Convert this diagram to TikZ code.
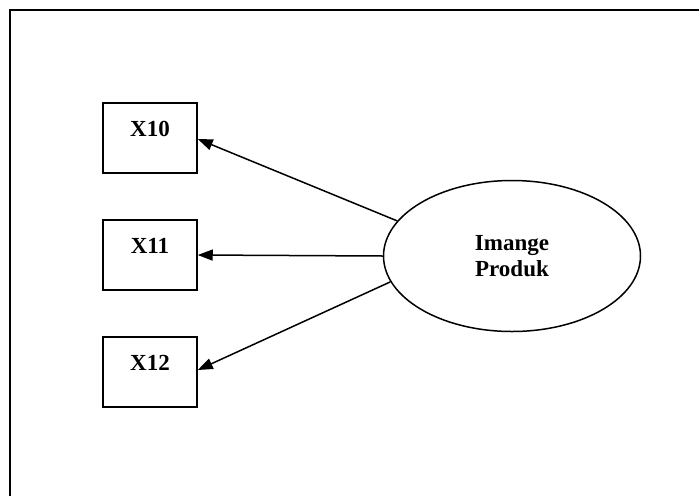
\documentclass[tikz,border=0pt]{standalone}
\usepackage{fontspec}
\setmainfont{Liberation Serif}
\usetikzlibrary{shapes.geometric,arrows.meta}
\begin{document}
\begin{tikzpicture}[x=1pt,y=-1pt,
  indicator/.style={draw,line width=1.5pt,minimum width=94pt,minimum height=70pt,inner sep=0pt},
  boxlabel/.style={font=\fontsize{23}{26}\selectfont\bfseries,anchor=base,inner sep=0pt},
  construct/.style={draw,ellipse,line width=1.5pt,minimum width=257pt,minimum height=151pt,inner sep=0pt,
    align=center,font=\fontsize{23}{26.5}\selectfont\bfseries},
  loading/.style={line width=1.5pt,-{Triangle[length=15pt,width=11pt]}}]
  \useasboundingbox (0,0) rectangle (699,496);
  % open frame: top and left edges only
  \coordinate (frameTR) at (699,10);
  \coordinate (frameTL) at (10,10);
  \coordinate (frameBL) at (10,496);
  \draw[line width=2pt] (frameTR) -- (frameTL) -- (frameBL);
  % indicator boxes
  \node[indicator] (x10) at (150,138) {};
  \node[indicator] (x11) at (150,255) {};
  \node[indicator] (x12) at (150,372) {};
  \node[boxlabel] (x10t) at (150,136.7) {X10};
  \node[boxlabel] (x11t) at (150,253.7) {X11};
  \node[boxlabel] (x12t) at (150,370.7) {X12};
  % latent construct
  \node[construct] (ip) at (512,256) {Imange\\Produk};
  % loadings
  \draw[loading] (ip.163.4) -- ([yshift=-1pt]x10.east);
  \draw[loading] (ip.west) -- (x11.east);
  \draw[loading] (ip.192.9) -- ([yshift=2pt]x12.east);
\end{tikzpicture}
\end{document}
